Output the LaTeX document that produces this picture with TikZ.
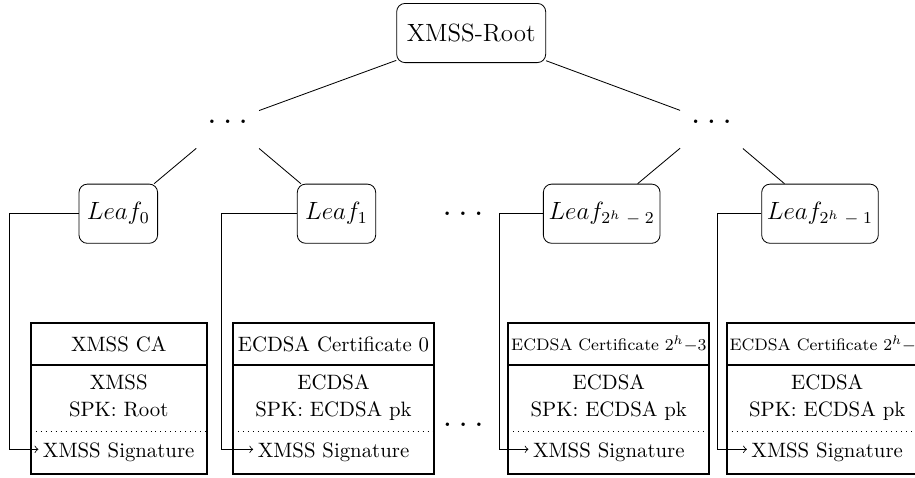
\documentclass[tikz,border=0pt]{standalone}
\usetikzlibrary{positioning}
\def\pxu{0.4808pt}
\tikzset{
  rbox/.style={draw, rounded corners=4pt, minimum height=1cm, inner sep=2pt, font=\large},
  dotsnode/.style={inner sep=0pt, minimum width=62*\pxu, minimum height=56*\pxu, font=\fontsize{18.5}{20}\selectfont},
  certhead/.style={draw, thick, inner sep=0pt, outer sep=0pt, minimum height=41.7*\pxu},
  certbody/.style={draw, thick, inner sep=0pt, outer sep=0pt, minimum height=109*\pxu, anchor=north},
  celltext/.style={anchor=base, inner sep=0pt},
  sigtext/.style={anchor=base, inner xsep=2pt, inner ysep=0pt},
  sepline/.style={dotted},
  link/.style={->},
  treeedge/.style={}
}
\begin{document}
\begin{tikzpicture}[x=0.4808pt, y=-0.4808pt]
\useasboundingbox (0,0) rectangle (915,477);
\clip (0,0) rectangle (915,477);

% tree
\node[rbox, minimum width=149*\pxu] (root) at (471.2,33) {XMSS-Root};
\node[dotsnode] (dl) at (227.7,122) {$\ldots$};
\node[dotsnode] (dr) at (711.5,122) {$\ldots$};
\node[rbox, minimum width=78.6*\pxu] (l0) at (118.3,213.7) {$Leaf_0$};
\node[rbox, minimum width=78.4*\pxu] (l1) at (336.5,213.7) {$Leaf_1$};
\node[rbox, minimum width=116.7*\pxu] (l2) at (601.7,213.7) {$Leaf_{2^h\mskip6mu-\mskip5mu2}$};
\node[rbox, minimum width=116.6*\pxu] (l3) at (820,213.7) {$Leaf_{2^h\mskip6mu-\mskip5mu1}$};
\node[dotsnode] (dm) at (463,213.3) {$\ldots$};
\node[dotsnode] (db) at (463.3,424.3) {$\ldots$};

\draw[treeedge] (root) -- (dl);
\draw[treeedge] (root) -- (dr);
\draw[treeedge] (dl) -- (l0);
\draw[treeedge] (dl) -- (l1);
\draw[treeedge] (dr) -- (l2);
\draw[treeedge] (dr) -- (l3);

% certificate 0 (XMSS CA)
\node[certhead, minimum width=176*\pxu] (h0) at (118.7,344.15) {XMSS CA};
\node[certbody, minimum width=176*\pxu] (b0) at (h0.south) {};
\node[celltext] (m0a) at (118.7,389.8) {XMSS};
\node[celltext] (m0b) at (118.7,416.5) {SPK: Root};
\node[sigtext] (s0) at (118.7,457.6) {XMSS Signature};
\draw[sepline] ([yshift=42.3*\pxu]b0.south west) -- ([yshift=42.3*\pxu]b0.south east);

% certificate 1
\node[certhead, minimum width=201*\pxu] (h1) at (333.5,344.15) {ECDSA Certificate 0};
\node[certbody, minimum width=201*\pxu] (b1) at (h1.south) {};
\node[celltext] (m1a) at (333.5,389.8) {ECDSA};
\node[celltext] (m1b) at (333.5,416.5) {SPK: ECDSA pk};
\node[sigtext] (s1) at (333.5,457.6) {XMSS Signature};
\draw[sepline] ([yshift=42.3*\pxu]b1.south west) -- ([yshift=42.3*\pxu]b1.south east);

% certificate 2^h-3
\node[certhead, minimum width=201*\pxu, font=\footnotesize] (h2) at (608.8,344.15) {ECDSA Certificate $2^h{-}3$};
\node[certbody, minimum width=201*\pxu] (b2) at (h2.south) {};
\node[celltext] (m2a) at (608.8,389.8) {ECDSA};
\node[celltext] (m2b) at (608.8,416.5) {SPK: ECDSA pk};
\node[sigtext] (s2) at (608.8,457.6) {XMSS Signature};
\draw[sepline] ([yshift=42.3*\pxu]b2.south west) -- ([yshift=42.3*\pxu]b2.south east);

% certificate 2^h-2
\node[certhead, minimum width=201*\pxu, font=\footnotesize] (h3) at (827.2,344.15) {ECDSA Certificate $2^h{-}2$};
\node[certbody, minimum width=201*\pxu] (b3) at (h3.south) {};
\node[celltext] (m3a) at (827.2,389.8) {ECDSA};
\node[celltext] (m3b) at (827.2,416.5) {SPK: ECDSA pk};
\node[sigtext] (s3) at (827.2,457.6) {XMSS Signature};
\draw[sepline] ([yshift=42.3*\pxu]b3.south west) -- ([yshift=42.3*\pxu]b3.south east);

% leaf -> signature connectors
\coordinate (k0) at (9.3,213.7);
\coordinate (k1) at (221.7,213.7);
\coordinate (k2) at (499.6,213.7);
\coordinate (k3) at (717.2,213.7);
\draw[link] (l0.west) -- (k0) |- ([yshift=3.1*\pxu]s0.west);
\draw[link] (l1.west) -- (k1) |- ([yshift=3.1*\pxu]s1.west);
\draw[link] (l2.west) -- (k2) |- ([yshift=3.1*\pxu]s2.west);
\draw[link] (l3.west) -- (k3) |- ([yshift=3.1*\pxu]s3.west);
\end{tikzpicture}
\end{document}
